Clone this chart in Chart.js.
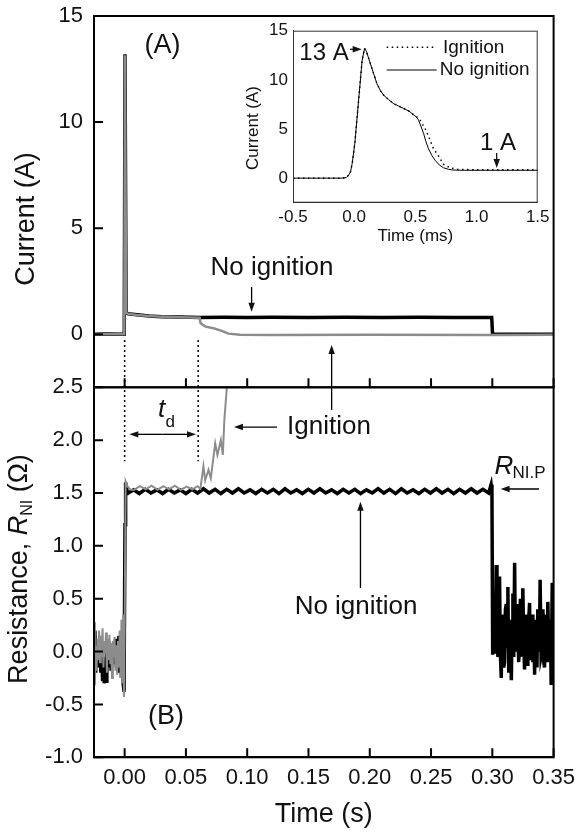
<!DOCTYPE html>
<html>
<head>
<meta charset="utf-8">
<script src="https://cdn.jsdelivr.net/npm/chart.js@4.4.1/dist/chart.umd.min.js"></script>
<style>
  html, body { margin: 0; padding: 0; background: #fff; }
  #wrap { position: relative; width: 578px; height: 836px; }
  #main { position: absolute; left: 0; top: 0; }
  #inset { position: absolute; left: 240px; top: 20px; }
</style>
</head>
<body>
<div id="wrap">
  <canvas id="main" width="578" height="836"></canvas>
  <canvas id="inset" width="320" height="250"></canvas>
</div>
<script>
// --- DATOS ---
const xTicks = [0, 0.05, 0.10, 0.15, 0.20, 0.25, 0.30, 0.35];
const currentTicks = [0, 5, 10, 15];
const resistanceTicks = [-1.0, -0.5, 0, 0.5, 1.0, 1.5, 2.0, 2.5];
const insetXTicks = [-0.5, 0, 0.5, 1.0, 1.5];
const insetYTicks = [0, 5, 10, 15];
const ignitionDelay = 0.06;

// panel A: corriente (s, A)
const currentNoIgnition = [
  [-0.025, 0.0], [-0.015, 0.01], [-0.0003, 0.0], [0.0003, 13.2], [0.0012, 1.0], [0.003, 0.97],
  [0.01, 0.92], [0.02, 0.86], [0.03, 0.83], [0.045, 0.81], [0.0615, 0.79], [0.08, 0.8],
  [0.1, 0.79], [0.12, 0.8], [0.15, 0.79], [0.18, 0.8], [0.21, 0.79], [0.24, 0.8],
  [0.27, 0.79], [0.2995, 0.79], [0.3002, 0.0], [0.35, 0.0]
];
const currentIgnition = [
  [-0.025, 0.0], [-0.015, 0.0], [-0.0003, 0.0], [0.0003, 13.15], [0.0012, 1.0], [0.003, 0.97],
  [0.01, 0.91], [0.02, 0.86], [0.03, 0.83], [0.045, 0.8], [0.0612, 0.78], [0.0618, 0.55],
  [0.063, 0.47], [0.066, 0.36], [0.0725, 0.28], [0.0793, 0.16], [0.0847, 0.03], [0.094, -0.02],
  [0.12, -0.03], [0.2, -0.02], [0.3, -0.03], [0.35, -0.02]
];

// panel B: resistencia (s, ohm)
const resistanceIgnition = [
  [-0.025, 0.28], [-0.0243, -0.32], [-0.0236, 0.05], [-0.0229, -0.18], [-0.0222, 0.12],
  [-0.0215, -0.08], [-0.0208, 0.2], [-0.0201, -0.1], [-0.0194, 0.15], [-0.0187, -0.05],
  [-0.018, 0.22], [-0.0173, -0.15], [-0.0166, 0.1], [-0.0159, -0.02], [-0.0152, 0.18],
  [-0.0145, -0.2], [-0.0138, 0.12], [-0.0131, -0.08], [-0.0124, 0.16], [-0.0117, -0.12],
  [-0.011, 0.08], [-0.0103, -0.25], [-0.0096, 0.1], [-0.0089, -0.05], [-0.0082, 0.14],
  [-0.0075, -0.18], [-0.0068, 0.06], [-0.0061, -0.22], [-0.0054, 0.1], [-0.0047, -0.15],
  [-0.004, 0.2], [-0.0033, -0.25], [-0.0026, 0.3], [-0.0019, -0.3], [-0.0012, 0.35],
  [-0.0006, -0.43], [0.0, 0.2], [0.0008, 1.61], [0.0025, 1.56], [0.005, 1.53],
  [0.0078, 1.53], [0.0125, 1.565], [0.0172, 1.535], [0.022, 1.57], [0.0268, 1.53],
  [0.0315, 1.565], [0.0362, 1.535], [0.041, 1.57], [0.0458, 1.53], [0.0505, 1.56],
  [0.0553, 1.535], [0.0595, 1.565], [0.0618, 1.54], [0.0643, 1.755], [0.0657, 1.62],
  [0.0684, 1.72], [0.0703, 1.64], [0.0739, 1.97], [0.0757, 1.86], [0.0785, 2.0],
  [0.0801, 1.86], [0.0814, 2.2], [0.0834, 2.5]
];
const resistanceNoIgnition = [
  [-0.025, -0.05], [-0.0243, 0.2], [-0.0236, -0.2], [-0.0229, 0.1], [-0.0222, -0.1],
  [-0.0215, 0.05], [-0.0208, -0.15], [-0.0201, 0.08], [-0.0194, -0.2], [-0.0187, 0.0],
  [-0.018, -0.28], [-0.0173, -0.05], [-0.0166, -0.3], [-0.0159, -0.12], [-0.0152, -0.28],
  [-0.0145, 0.05], [-0.0138, -0.15], [-0.0131, 0.1], [-0.0124, -0.1], [-0.0117, 0.05],
  [-0.011, -0.18], [-0.0103, 0.08], [-0.0096, -0.12], [-0.0089, 0.1], [-0.0082, -0.08],
  [-0.0075, 0.12], [-0.0068, -0.15], [-0.0061, 0.05], [-0.0054, -0.1], [-0.0047, 0.15],
  [-0.004, -0.2], [-0.0033, 0.1], [-0.0026, -0.25], [-0.0019, 0.15], [-0.0012, -0.3],
  [-0.0005, -0.38], [0.0003, 1.2], [0.0008, 1.6], [0.002, 1.52], [0.003, 1.5],
  [0.0073, 1.53], [0.012, 1.495], [0.0168, 1.535], [0.0215, 1.5], [0.0263, 1.53],
  [0.031, 1.495], [0.0358, 1.535], [0.0405, 1.5], [0.0453, 1.53], [0.05, 1.495],
  [0.0548, 1.535], [0.0595, 1.5], [0.0643, 1.54], [0.069, 1.5], [0.0738, 1.535],
  [0.0785, 1.495], [0.0833, 1.535], [0.088, 1.5], [0.0928, 1.54], [0.0975, 1.5],
  [0.1023, 1.53], [0.107, 1.495], [0.1118, 1.535], [0.1165, 1.5], [0.1213, 1.535],
  [0.126, 1.495], [0.1308, 1.54], [0.1355, 1.5], [0.1403, 1.53], [0.145, 1.495],
  [0.1498, 1.535], [0.1545, 1.5], [0.1593, 1.54], [0.164, 1.5], [0.1688, 1.53],
  [0.1735, 1.495], [0.1783, 1.535], [0.183, 1.5], [0.1878, 1.535], [0.1925, 1.495],
  [0.1973, 1.53], [0.202, 1.5], [0.2068, 1.54], [0.2115, 1.5], [0.2163, 1.535],
  [0.221, 1.495], [0.2258, 1.54], [0.2305, 1.5], [0.2353, 1.53], [0.24, 1.495],
  [0.2448, 1.535], [0.2495, 1.5], [0.2543, 1.54], [0.259, 1.5], [0.2638, 1.535],
  [0.2685, 1.495], [0.2733, 1.535], [0.278, 1.5], [0.2828, 1.54], [0.2875, 1.5],
  [0.2923, 1.535], [0.297, 1.5], [0.299, 1.58], [0.2997, 1.5], [0.3003, -0.03],
  [0.3009, 0.4], [0.3014, 0.05], [0.3019, 0.55], [0.3025, -0.02], [0.3032, 0.82],
  [0.3038, 0.1], [0.3046, -0.05], [0.3052, 0.5], [0.3059, 0.71], [0.3065, 0.0],
  [0.3073, -0.25], [0.3079, 0.35], [0.3086, 0.3], [0.3093, -0.15], [0.31, -0.1],
  [0.3107, 0.4], [0.3114, 0.45], [0.312, 0.05], [0.3127, 0.61], [0.3134, -0.2],
  [0.3141, -0.05], [0.3148, 0.3], [0.3155, -0.27], [0.3161, 0.2], [0.3168, 0.55],
  [0.3175, -0.05], [0.3182, 0.84], [0.3188, 0.1], [0.3195, 0.0], [0.3202, 0.45],
  [0.3209, 0.25], [0.3215, -0.1], [0.3222, 0.05], [0.3229, 0.5], [0.3236, 0.35],
  [0.3242, -0.05], [0.3249, 0.6], [0.3256, 0.1], [0.3263, -0.17], [0.327, 0.35],
  [0.3277, 0.2], [0.3283, -0.12], [0.329, 0.0], [0.3297, 0.3], [0.3304, 0.46],
  [0.331, -0.08], [0.3317, 0.05], [0.3324, 0.35], [0.3331, -0.1], [0.3338, 0.25],
  [0.3345, -0.22], [0.3351, 0.3], [0.3358, 0.15], [0.3364, -0.15], [0.3371, 0.4],
  [0.3378, 0.0], [0.3385, 0.1], [0.339, 0.68], [0.3398, -0.05], [0.3407, 0.0],
  [0.3413, 0.4], [0.342, -0.1], [0.3426, -0.15], [0.3433, 0.35], [0.344, 0.3],
  [0.3446, -0.1], [0.3453, 0.47], [0.346, 0.05], [0.3467, -0.1], [0.3474, 0.3],
  [0.348, -0.3], [0.3485, 0.2], [0.3489, 0.65], [0.3494, -0.1], [0.3497, 0.4],
  [0.35, -0.3]
];

// recuadro: corriente (ms, A)
const insetNoIgnition = [
  [-0.5, 0], [-0.1, 0], [-0.065, 0.05], [-0.045, 0.3], [-0.03, 0.65], [-0.016, 1.5],
  [0.005, 3.5], [0.024, 6.2], [0.046, 9.3], [0.065, 12.0], [0.085, 13.2], [0.1, 12.9],
  [0.131, 11.7], [0.16, 10.6], [0.186, 9.6], [0.215, 8.9], [0.24, 8.45], [0.28, 8.0],
  [0.32, 7.6], [0.36, 7.35], [0.403, 7.1], [0.45, 6.8], [0.485, 6.45], [0.51, 6.2],
  [0.526, 5.9], [0.545, 5.3], [0.567, 4.55], [0.587, 3.7], [0.607, 3.0], [0.635, 2.3],
  [0.662, 1.8], [0.695, 1.35], [0.73, 1.05], [0.77, 0.9], [0.81, 0.82], [0.9, 0.8],
  [1.2, 0.8], [1.5, 0.8]
];
const insetIgnition = [
  [-0.5, 0], [-0.1, 0], [-0.065, 0.05], [-0.045, 0.3], [-0.03, 0.65], [-0.016, 1.5],
  [0.005, 3.5], [0.024, 6.2], [0.046, 9.3], [0.065, 12.0], [0.085, 13.2], [0.1, 12.9],
  [0.131, 11.7], [0.16, 10.6], [0.186, 9.6], [0.215, 8.9], [0.24, 8.45], [0.28, 8.0],
  [0.32, 7.6], [0.36, 7.35], [0.403, 7.1], [0.45, 6.8], [0.485, 6.45], [0.51, 6.25],
  [0.539, 5.9], [0.562, 5.4], [0.586, 4.9], [0.616, 4.0], [0.648, 3.0], [0.692, 2.2],
  [0.73, 1.4], [0.784, 1.05], [0.85, 0.88], [1.0, 0.85], [1.5, 0.85]
];

// --- ESTILO ---
const FONT = "'Liberation Sans', Arial, sans-serif";
const GRAY = '#8c8c8c';
const INK = '#111';
Chart.defaults.font.family = FONT;
const font = (size, style) => (style ? style + ' ' : '') + size + 'px ' + FONT;
const pts = arr => arr.map(([x, y]) => ({ x, y }));

// sin relleno extra por etiquetas: el área del gráfico la fija layout.padding
function noPad(s) { s.paddingTop = 0; s.paddingBottom = 0; s.paddingLeft = 0; s.paddingRight = 0; }

function drawArrow(ctx, x1, y1, x2, y2) {
  const a = Math.atan2(y2 - y1, x2 - x1), len = 9, half = 3.2;
  const c = Math.cos(a), s = Math.sin(a);
  ctx.beginPath();
  ctx.moveTo(x1, y1);
  ctx.lineTo(x2 - c * len * 0.6, y2 - s * len * 0.6);
  ctx.stroke();
  ctx.beginPath();
  ctx.moveTo(x2, y2);
  ctx.lineTo(x2 - c * len - s * half, y2 - s * len + c * half);
  ctx.lineTo(x2 - c * len + s * half, y2 - s * len - c * half);
  ctx.closePath();
  ctx.fill();
}

// texto con partes (cursiva, subíndice), opcionalmente rotado
function drawRich(ctx, parts, cx, cy, rot, base) {
  ctx.save();
  ctx.translate(cx, cy);
  ctx.rotate(rot);
  ctx.textAlign = 'left';
  ctx.textBaseline = 'alphabetic';
  let total = 0;
  parts.forEach(p => { ctx.font = p.font; p.w = ctx.measureText(p.text).width; total += p.w; });
  let xx = -total / 2;
  parts.forEach(p => { ctx.font = p.font; ctx.fillText(p.text, xx, base + (p.dy || 0)); xx += p.w; });
  ctx.restore();
}

function text(ctx, str, x, y, f, align) {
  ctx.font = f;
  ctx.textAlign = align || 'left';
  ctx.textBaseline = 'middle';
  ctx.fillText(str, x, y);
}

// --- GRAFICO PRINCIPAL ---
function yAxis(min, max, ticks, weight, stackWeight, fmt) {
  return {
    type: 'linear', position: 'left', stack: 'panels', stackWeight, weight, min, max,
    afterBuildTicks: s => { s.ticks = ticks.map(v => ({ value: v })); },
    afterFit: s => { s.width = 94; noPad(s); },
    grid: { drawOnChartArea: false, drawTicks: false },
    border: { color: '#000', width: 2 },
    ticks: { font: { size: 22 }, color: INK, padding: 11, autoSkip: false, callback: fmt }
  };
}

const mainNotes = {
  id: 'mainNotes',
  afterDraw(chart) {
    const { ctx, chartArea: ca } = chart;
    const { x, yA, yB } = chart.scales;
    const X = t => x.getPixelForValue(t);
    const A = v => yA.getPixelForValue(v);
    const B = v => yB.getPixelForValue(v);
    ctx.save();
    ctx.strokeStyle = '#000';
    ctx.fillStyle = INK;

    // marcos de los paneles y marcas hacia dentro
    ctx.lineWidth = 2;
    ctx.strokeRect(ca.left, yA.top, ca.right - ca.left, yA.bottom - yA.top);
    ctx.strokeRect(ca.left, yB.top, ca.right - ca.left, yB.bottom - yB.top);
    ctx.beginPath();
    xTicks.forEach(t => {
      ctx.moveTo(X(t), yA.bottom); ctx.lineTo(X(t), yA.bottom - 9);
      ctx.moveTo(X(t), yB.bottom); ctx.lineTo(X(t), yB.bottom - 9);
    });
    currentTicks.forEach(v => { ctx.moveTo(ca.left, A(v)); ctx.lineTo(ca.left + 9, A(v)); });
    resistanceTicks.forEach(v => { ctx.moveTo(ca.left, B(v)); ctx.lineTo(ca.left + 9, B(v)); });
    ctx.stroke();

    // líneas punteadas del retardo
    ctx.lineWidth = 1.5;
    ctx.setLineDash([2, 3]);
    ctx.beginPath();
    [0, ignitionDelay].forEach(t => { ctx.moveTo(X(t), A(-0.27)); ctx.lineTo(X(t), B(1.8)); });
    ctx.stroke();
    ctx.setLineDash([]);

    ctx.lineWidth = 1.3;
    // t_d
    drawArrow(ctx, X(0.031), B(2.055), X(0.0038), B(2.055));
    drawArrow(ctx, X(0.031), B(2.055), X(0.0582), B(2.055));
    ctx.textBaseline = 'alphabetic';
    ctx.textAlign = 'left';
    ctx.font = font(26, 'italic');
    ctx.fillText('t', X(0.0272), B(2.222));
    ctx.font = font(17);
    ctx.fillText('d', X(0.0333), B(2.127));

    text(ctx, '(A)', X(0.0309), A(13.59), font(27), 'center');
    text(ctx, '(B)', X(0.0337), B(-0.618), font(27), 'center');

    text(ctx, 'No ignition', X(0.0701), A(3.12), font(26));
    drawArrow(ctx, X(0.1036), A(2.23), X(0.1036), A(1.06));

    text(ctx, 'Ignition', X(0.1325), B(2.124), font(26));
    drawArrow(ctx, X(0.1243), B(2.124), X(0.0892), B(2.124));
    drawArrow(ctx, X(0.1689), B(2.285), X(0.1689), A(-0.51));

    text(ctx, 'No ignition', X(0.1387), B(0.422), font(26));
    drawArrow(ctx, X(0.1924), B(0.601), X(0.1924), B(1.418));

    ctx.textBaseline = 'alphabetic';
    ctx.textAlign = 'left';
    ctx.font = font(26, 'italic');
    ctx.fillText('R', X(0.3018), B(1.68));
    ctx.font = font(17);
    ctx.fillText('NI.P', X(0.3018) + 18, B(1.642));
    drawArrow(ctx, X(0.3381), B(1.538), X(0.3068), B(1.538));

    // títulos de los ejes y
    drawRich(ctx, [{ text: 'Current (A)', font: font(27) }],
      ca.left - 70, A(5.43), -Math.PI / 2, 9.5);
    drawRich(ctx, [
      { text: 'Resistance, ', font: font(27) },
      { text: 'R', font: font(27, 'italic') },
      { text: 'NI', font: font(16), dy: 5 },
      { text: ' (Ω)', font: font(27) }
    ], ca.left - 77, B(0.781), -Math.PI / 2, 9.5);
    ctx.restore();
  }
};

new Chart(document.getElementById('main'), {
  type: 'line',
  data: {
    datasets: [
      { label: 'Ignition', data: pts(currentIgnition), yAxisID: 'yA', borderColor: GRAY, borderWidth: 2.5, order: 0 },
      { label: 'No ignition', data: pts(currentNoIgnition), yAxisID: 'yA', borderColor: '#000', borderWidth: 3.5, order: 1 },
      { label: 'Ignition', data: pts(resistanceIgnition), yAxisID: 'yB', borderColor: GRAY, borderWidth: 2, order: 0 },
      { label: 'No ignition', data: pts(resistanceNoIgnition), yAxisID: 'yB', borderColor: '#000', borderWidth: 3.5, order: 1 }
    ]
  },
  options: {
    responsive: false,
    animation: false,
    elements: { point: { radius: 0 }, line: { tension: 0 } },
    layout: { padding: { top: 16, right: 24.4, left: 0, bottom: 0 } },
    plugins: { legend: { display: false }, tooltip: { enabled: false } },
    scales: {
      x: {
        type: 'linear', min: -0.025, max: 0.35,
        afterBuildTicks: s => { s.ticks = xTicks.map(v => ({ value: v })); },
        afterFit: s => { s.height = 78.7; noPad(s); },
        grid: { drawOnChartArea: false, drawTicks: false },
        border: { color: '#000', width: 2 },
        ticks: { font: { size: 22 }, color: INK, padding: 7.5, maxRotation: 0, autoSkip: false,
                 callback: v => v.toFixed(2) },
        title: { display: true, text: 'Time (s)', color: INK, font: { size: 27 }, padding: { top: 0, bottom: 5 } }
      },
      yA: yAxis(-2.5, 15, currentTicks, 2, 371.3, v => String(v)),
      yB: yAxis(-1, 2.5, resistanceTicks, 1, 370, v => v.toFixed(1))
    }
  },
  plugins: [mainNotes]
});

// --- RECUADRO ---
const insetNotes = {
  id: 'insetNotes',
  afterDraw(chart) {
    const { ctx, chartArea: ca } = chart;
    const { x, y } = chart.scales;
    const X = t => x.getPixelForValue(t);
    const Y = v => y.getPixelForValue(v);
    ctx.save();
    ctx.strokeStyle = '#333';
    ctx.fillStyle = INK;
    ctx.lineWidth = 1;
    ctx.strokeRect(ca.left + 0.5, ca.top + 0.5, ca.right - ca.left - 1, ca.bottom - ca.top - 1);

    // leyenda
    ctx.strokeStyle = '#000';
    ctx.lineWidth = 1.5;
    ctx.setLineDash([1.5, 3.5]);
    ctx.beginPath(); ctx.moveTo(X(0.266), Y(13.31)); ctx.lineTo(X(0.675), Y(13.31)); ctx.stroke();
    ctx.setLineDash([]);
    ctx.lineWidth = 1;
    ctx.beginPath(); ctx.moveTo(X(0.266), Y(11.0)); ctx.lineTo(X(0.675), Y(11.0)); ctx.stroke();
    text(ctx, 'Ignition', X(0.726), Y(13.31), font(19));
    text(ctx, 'No ignition', X(0.7), Y(11.0), font(19));

    ctx.lineWidth = 1.2;
    text(ctx, '13 A', X(-0.4485), Y(12.73), font(24));
    drawArrow(ctx, X(-0.034), Y(13.11), X(0.0615), Y(13.11));
    text(ctx, '1 A', X(1.028), Y(3.58), font(24));
    drawArrow(ctx, X(1.165), Y(2.56), X(1.165), Y(1.03));

    drawRich(ctx, [{ text: 'Current (A)', font: font(17) }], ca.left - 41.3, Y(5.1), -Math.PI / 2, 6);
    ctx.restore();
  }
};

new Chart(document.getElementById('inset'), {
  type: 'line',
  data: {
    datasets: [
      { label: 'Ignition', data: pts(insetIgnition), borderColor: '#000', borderWidth: 1.5, borderDash: [1.5, 3.5] },
      { label: 'No ignition', data: pts(insetNoIgnition), borderColor: '#000', borderWidth: 1 }
    ]
  },
  options: {
    responsive: false,
    animation: false,
    elements: { point: { radius: 0 }, line: { tension: 0 } },
    layout: { padding: { top: 10.7, right: 22.3, left: 0, bottom: 0 } },
    plugins: { legend: { display: false }, tooltip: { enabled: false } },
    scales: {
      x: {
        type: 'linear', min: -0.5, max: 1.5,
        afterBuildTicks: s => { s.ticks = insetXTicks.map(v => ({ value: v })); },
        afterFit: s => { s.height = 67.3; noPad(s); },
        grid: { drawOnChartArea: false, drawTicks: false },
        border: { color: '#333', width: 1 },
        ticks: { font: { size: 17 }, color: INK, padding: 4.6, maxRotation: 0, autoSkip: false,
                 callback: v => v.toFixed(1) },
        title: { display: true, text: 'Time (ms)', color: INK, font: { size: 17 }, padding: { top: 0, bottom: 23 } }
      },
      y: {
        type: 'linear', min: -2.5, max: 15,
        afterBuildTicks: s => { s.ticks = insetYTicks.map(v => ({ value: v })); },
        afterFit: s => { s.width = 53; noPad(s); },
        grid: { drawOnChartArea: false, drawTicks: false },
        border: { color: '#333', width: 1 },
        ticks: { font: { size: 17 }, color: INK, padding: 5, autoSkip: false, callback: v => String(v) }
      }
    }
  },
  plugins: [insetNotes]
});
</script>
</body>
</html>
